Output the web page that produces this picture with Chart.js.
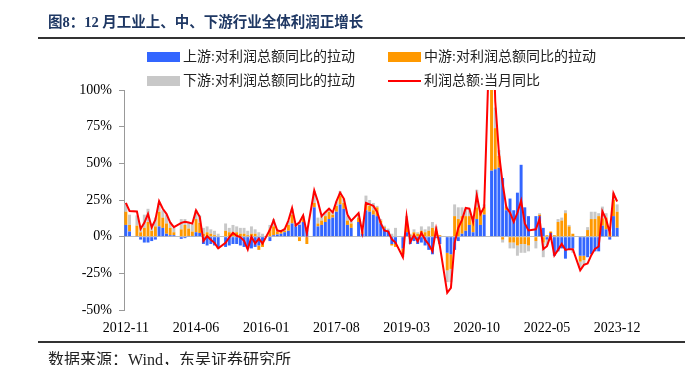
<!DOCTYPE html>
<html lang="zh-CN">
<head>
    <meta charset="UTF-8">
    <title>图8：12月工业上、中、下游行业全体利润正增长</title>
    <script src="https://cdn.jsdelivr.net/npm/chart.js"></script>
    <style>
        body {
            margin: 0;
            background: #fff;
        }

        .page {
            position: relative;
            width: 685px;
            height: 365px;
            overflow: hidden;
            font-family: 'Liberation Serif', 'Noto Sans CJK SC', serif;
        }

        .page canvas {
            position: absolute;
            left: 0;
            top: 0;
        }

        .title {
            position: absolute;
            left: 48px;
            top: 10px;
            font-family: 'Liberation Serif', 'Noto Sans CJK SC', serif;
            font-weight: bold;
            font-size: 14.5px;
            color: #1f3864;
            white-space: nowrap;
        }

        .rule {
            position: absolute;
            left: 38px;
            right: 0;
            height: 2px;
            background: #333;
        }

        .legend-item {
            position: absolute;
            display: flex;
            align-items: center;
            font-size: 14px;
            line-height: 18px;
            color: #222;
            white-space: nowrap;
            z-index: 2;
        }

        .swatch {
            width: 33px;
            height: 10px;
            margin-right: 3px;
        }

        .swatch.line {
            height: 2px;
        }

        .source {
            position: absolute;
            left: 48px;
            top: 346px;
            font-size: 16px;
            color: #222;
            white-space: nowrap;
        }
    </style>
</head>
<body>
    <div class="page">
        <canvas id="profitChart" width="685" height="365"></canvas>

        <div class="title">图8：12 月工业上、中、下游行业全体利润正增长</div>
        <div class="rule" style="top: 37px;"></div>

        <!-- Legend, 2 x 2 -->
        <div class="legend-item" style="left: 147px; top: 48px;">
            <span class="swatch" style="background: #3366ff;"></span>上游:对利润总额同比的拉动
        </div>
        <div class="legend-item" style="left: 388px; top: 48px;">
            <span class="swatch" style="background: #ff9900;"></span>中游:对利润总额同比的拉动
        </div>
        <div class="legend-item" style="left: 147px; top: 72px;">
            <span class="swatch" style="background: #c8c8c8;"></span>下游:对利润总额同比的拉动
        </div>
        <div class="legend-item" style="left: 388px; top: 72px;">
            <span class="swatch line" style="background: #ff0000;"></span>利润总额:当月同比
        </div>

        <div class="rule" style="top: 341px;"></div>
        <div class="source">数据来源：Wind，东吴证券研究所</div>
    </div>

    <script>
        // Months 2012-11 .. 2023-12 (January has no monthly figure)
        const months = [];
        for (let y = 2012; y <= 2023; y++) {
            for (let m = 1; m <= 12; m++) {
                if (y === 2012 && m < 11) continue;
                months.push(y + '-' + String(m).padStart(2, '0'));
            }
        }
        const labelStep = 19;

        // 上游 contribution (%)
        const upstream = [
            8, 3.5,
            null, 0.5, -2, -4, -4, -3, -2, 7, 6, 2, 1, 1,
            null, -1.5, -1, 0.5, 0.5, 3, 2.5, -5, -6, -5, -6, -7,
            null, -7, -6, -5, -5, -6, -7, -8, -8, -7, -6, -3,
            null, -3, 1, 1.5, 2, 3, 4, 9, 7, 8, 10, 5,
            null, 20, 7, 8, 10, 12, 13, 17, 22, 19, 8, 6,
            null, 10, 2, 18, 17, 15, 14, 9, 5.5, 4, -5, -5,
            null, -8, 3, -5, -3, -5, -4, -6, -9, -12, -1, -5,
            null, -11, -12, -9, -3, 2, 4, 8, 3, 12, 8, 15,
            null, 45, 46, 47, 40, 18, 26, 18, 30, 49, 20, 14,
            null, 14, 14, 6, -2, 2.5, -13, -10, -8, -15, -9, -8,
            null, -13, -13, -14, -12, -10, -10, 7.5, 5, -2, 14, 6
        ];

        // 中游 contribution (%)
        const midstream = [
            9, 4.5,
            null, 7, 3, 6, 10, 4, 7, 10, 7, 7, 5, 2,
            null, 5, 8, 5, 3, 9, 7, 2, 3, 2, 1, -1,
            null, 4, 3, 3, 3, 2, 2, 1, 2, 2, -3, -4,
            null, 5, 6, 2, 1.5, 1, 4, 6, 1, -3, 2, -5,
            null, 3, 2, 3, 4, 5, 2, 4, 6, 4, 3, 3,
            null, 3, 1, 4, 4, 3, 6, 2, 1, 0, -1, -2,
            null, -4, 6, 1, 3, 2, 4, 3, 4, 6, 4, 1,
            null, -12, -10, 14, 12, 12, 10, 6, 8, 8, 8, 5,
            null, 90, 28, 8, -2, 2, -4, -4, -6, -5, -5, -6,
            null, -3, 1, -4, 1, 1, 1, 10, 11, 16, 7, 2,
            null, -4, -3, 4.5, 12, 12, 14, 5, 8, 3, 11, 11
        ];

        // 下游 contribution (%)
        const downstream = [
            6, 7,
            null, 7, 4, 9, 9, 5, 6, 6, 5, 6, 4, 3,
            null, 7, 4, 4, 5, 6, 5, 4, 4, 3, 3, 2,
            null, 5, 3, 5, 4, 4, 4, 3, 5, 3, 3, 2,
            null, 3, 5, 1.5, 1, 1.5, 3, 4, 1, 2, 2, 1,
            null, 8, 4, 3, 3, 2, 2, 3, 3, 3, 3, 2,
            null, 3, 1, 6, 4, 5, 1, 1, 1, 1.5, 2, 6,
            null, -2, 5, 1, 2, 1, 3, 2, 3, 4, 3, 0,
            null, -8, -9, 8, 8, 6, 5, 4, 3, 12, 2, 2,
            null, 45, 14, 4, -2, 1, -4, -4, -7, -6, -6, -4,
            null, -5, 1, -10, -4, -2, 0, 2, 2, 2, 1, -3,
            null, -4, -3, 2, 5, 5, 2, 8, 3, 1, 5, 5
        ];

        // 利润总额:当月同比 (%)
        const profitYoY = [
            23, 17.5,
            null, 17.2, 5.3, 9.4, 15.5, 6.3, 11.6, 24.2, 19, 15.6, 9.7, 6.5,
            null, 9.4, 10.1, 9.6, 8.9, 17.9, 13.5, -3, 0.4, -2.1, -4.2, -8,
            null, -4.2, -0.4, 2.6, 0.6, -0.3, -2.9, -8.8, -0.1, -4.6, -1.4, -4.7,
            null, 4.8, 11.1, 4.2, 3.7, 5.1, 11, 19.5, 7.7, 9.8, 14.5, 2.3,
            null, 31.5, 23.8, 14, 16.7, 19.1, 16.5, 24, 30, 26, 14.9, 10.8,
            null, 16.1, 3.1, 23, 22, 21, 17, 9.2, 4.1, 3.6, -1.8, -4,
            null, -14, 13.9, -3.7, 1.1, -3.1, 2.6, -2, -5.3, -9.9, 5.4, -6.3,
            null, -38.3, -34.9, -4.3, 6, 11.5, 19.6, 19.1, 10.1, 28.2, 15.5, 20.1,
            null, 178.9, 92.3, 57, 36.4, 20, 16.4, 10.1, 16.3, 24.6, 9, 4.2,
            null, 5, 12.2, -8.5, -6.5, 0.8, -12.8, -9, -5, -9, -8.5, -8.5,
            null, -22.9, -19.2, -18.2, -12.6, -8.3, -6.7, 17.2, 11.9, 2.7, 29.5, 24
        ];

        const yTicks = { min: -50, max: 100, step: 25 };

        const axisFont = { family: "'Liberation Serif', 'Times New Roman', serif", size: 14 };

        const ctx = document.getElementById('profitChart').getContext('2d');
        new Chart(ctx, {
            type: 'bar',
            data: {
                labels: months,
                datasets: [
                    {
                        type: 'line',
                        label: '利润总额:当月同比',
                        data: profitYoY,
                        borderColor: '#ff0000',
                        borderWidth: 2,
                        pointRadius: 0,
                        tension: 0,
                        spanGaps: true,
                        stack: 'line',
                        order: 0
                    },
                    {
                        label: '上游:对利润总额同比的拉动',
                        data: upstream,
                        backgroundColor: '#3366ff',
                        stack: 'bars',
                        order: 1
                    },
                    {
                        label: '中游:对利润总额同比的拉动',
                        data: midstream,
                        backgroundColor: '#ff9900',
                        stack: 'bars',
                        order: 1
                    },
                    {
                        label: '下游:对利润总额同比的拉动',
                        data: downstream,
                        backgroundColor: '#c8c8c8',
                        stack: 'bars',
                        order: 1
                    }
                ]
            },
            options: {
                responsive: false,
                animation: false,
                layout: {
                    padding: { top: 90, right: 66, bottom: 25, left: 0 }
                },
                datasets: {
                    bar: { categoryPercentage: 1, barPercentage: 0.8 }
                },
                plugins: {
                    legend: { display: false },
                    tooltip: { enabled: false }
                },
                scales: {
                    x: {
                        stacked: true,
                        grid: { display: false, drawTicks: false },
                        border: { display: false },
                        ticks: {
                            autoSkip: false,
                            maxRotation: 0,
                            padding: 10,
                            color: '#000',
                            font: axisFont,
                            callback: (v, i) => i % labelStep === 0 ? months[i] : ''
                        },
                        afterFit: s => { s.height = 30; }
                    },
                    y: {
                        stacked: true,
                        min: yTicks.min,
                        max: yTicks.max,
                        ticks: {
                            stepSize: yTicks.step,
                            padding: 7,
                            color: '#000',
                            font: axisFont,
                            callback: v => v + '%'
                        },
                        grid: {
                            color: c => c.tick && c.tick.value === 0 ? '#bfbfbf' : 'rgba(0,0,0,0)',
                            tickColor: '#999',
                            tickLength: 5
                        },
                        border: { color: '#999' },
                        afterFit: s => { s.width = 124; }
                    }
                }
            }
        });
    </script>
</body>
</html>
